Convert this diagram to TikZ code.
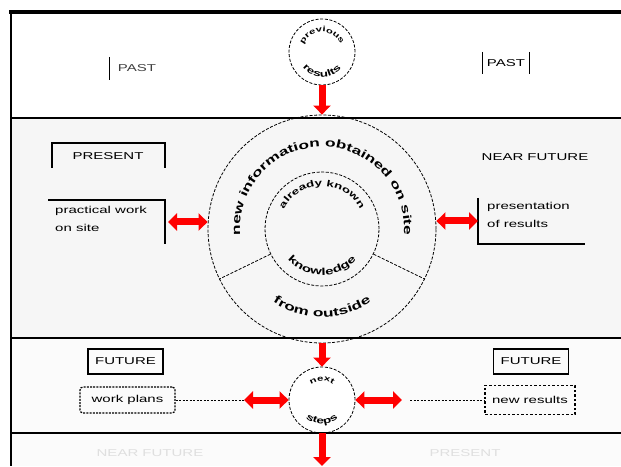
\documentclass[tikz,border=0pt]{standalone}
\usepackage{fontspec}
\setmainfont{Liberation Sans}[FakeStretch=1.5]
\usetikzlibrary{arrows.meta,decorations.text}
\newcommand\arcfontA{\fontsize{11.5}{13}\selectfont\bfseries}
\newcommand\arcfontB{\fontsize{10}{12}\selectfont\bfseries}
\newcommand\arcfontC{\fontsize{9}{11}\selectfont\bfseries}
\newcommand\arcfontD{\fontsize{7.5}{9}\selectfont\bfseries}
\begin{document}
\begin{tikzpicture}[x=1pt,y=1pt,
  lbl/.style={font=\fontsize{10}{18}\selectfont, inner sep=0pt},
  ring/.style={draw, line width=0.8pt, dash pattern=on 3pt off 1.6pt, circle, inner sep=0pt},
  ringline/.style={line width=0.8pt, dash pattern=on 3pt off 1.6pt},
  band/.style={line width=1.6pt},
  brk/.style={line width=1.1pt},
  redarr/.style={red, line width=7pt, -{Triangle[width=17pt,length=9pt]}},
  redbi/.style={red, line width=7pt, {Triangle[width=17pt,length=9pt]}-{Triangle[width=17pt,length=9pt]}},
  dotline/.style={line width=0.9pt, dash pattern=on 2pt off 1.5pt},
  arctext/.style={decorate, decoration={text along path, text align=center, text={#1}}},
]
\useasboundingbox (0,0) rectangle (621,466);
% backgrounds
\fill[white] (0,0) rectangle (621,466);
\fill[gray!7] (11,128) rectangle (621,348);
\fill[gray!3] (11,0) rectangle (621,128);

% circles
\node[ring, minimum size=66pt, fill=white] (topc) at (322,414) {};
\node[ring, minimum size=228pt] (big) at (322,237) {};
\node[ring, minimum size=114pt] (inner) at (322,237) {};
\draw[ringline] (inner.206) -- (big.206);
\draw[ringline] (inner.334) -- (big.334);
\node[ring, minimum size=66pt, fill=white] (botc) at (322,66) {};

% band lines
\draw[line width=3.5pt] (9,454) -- (621,454);
\draw[band] (11,455) -- (11,0);
\draw[band] (11,348) -- (621,348);
\draw[band] (11,128) -- (621,128);
\draw[band] (11,33) -- (621,33);

% curved texts
\path[arctext={|\arcfontA|new information obtained on site}]
  ([shift={(190:82)}]big.center) arc[start angle=190, end angle=-10, radius=82];
\path[arctext={|\arcfontA|from outside}]
  ([shift={(233:88)}]big.center) arc[start angle=233, end angle=307, radius=88];
\path[arctext={|\arcfontC|already known}]
  ([shift={(160:43)}]big.center) arc[start angle=160, end angle=20, radius=43];
\path[arctext={|\arcfontB|knowledge}]
  ([shift={(205:46)}]big.center) arc[start angle=205, end angle=335, radius=46];
\path[arctext={|\arcfontD|previous}]
  ([shift={(160:20)}]topc.center) arc[start angle=160, end angle=20, radius=20];
\path[arctext={|\arcfontC|results}]
  ([shift={(210:25)}]topc.center) arc[start angle=210, end angle=330, radius=25];
\path[arctext={|\arcfontD|next}]
  ([shift={(140:19)}]botc.center) arc[start angle=140, end angle=40, radius=19];
\path[arctext={|\arcfontC|steps}]
  ([shift={(235:24)}]botc.center) arc[start angle=235, end angle=305, radius=24];

% labels
\node[lbl, text=black!75] (past1) at (137,398) {PAST};
\draw[brk] ([shift={(-8,11)}]past1.west) -- ++(0,-23);
\node[lbl] (past2) at (506,403) {PAST};
\draw[brk] ([shift={(-4,11)}]past2.west) -- ++(0,-22);
\draw[brk] ([shift={(4,11)}]past2.east) -- ++(0,-22);

\node[lbl] (pres) at (108,310) {PRESENT};
\draw[brk] ([shift={(-56,-12)}]pres.center) -- ++(0,25) -- ++(113,0) -- ++(0,-25);
\node[lbl, align=left, anchor=north west] (pw) at (55,260) {practical work\\on site};
\draw[brk] (48,266) -- (165,266) -- (165,222);

\node[lbl] (nf) at (535,309) {NEAR FUTURE};
\node[lbl, align=left, anchor=north west] (pr) at (487,264) {presentation\\of results};
\draw[brk] (478,268) -- (478,222) -- (585,222);

\node[lbl, draw, line width=1.2pt, minimum width=75pt, minimum height=25pt] (fut1) at (125.5,104.5) {FUTURE};
\node[lbl, draw, line width=1.2pt, minimum width=75pt, minimum height=25pt] (fut2) at (531,104.5) {FUTURE};

\node[lbl, draw, line width=1.2pt, dash pattern=on 2pt off 1.2pt, rounded corners=3pt,
      minimum width=95pt, minimum height=26pt] (wp) at (127.5,66) {work plans};
\node[lbl, draw, line width=1.2pt, dash pattern=on 2.5pt off 2pt,
      minimum width=90pt, minimum height=29pt] (nr) at (530,66) {new results};

\node[lbl, text=gray!25] (f1) at (150,13) {NEAR FUTURE};
\node[lbl, text=gray!25] (f2) at (465,13) {PRESENT};

% connectors
\coordinate (pwe) at (168,244);
\coordinate (pre) at (478,245);
\coordinate (la) at (244,66);
\coordinate (ra) at (402,66);
\coordinate (bend) at (322,0);
\draw[redarr] (topc.south) -- (big.north);
\draw[redarr] (big.south) -- (botc.north);
\draw[redarr] (botc.south) -- (bend);
\draw[redbi] (pwe) -- (pwe -| big.west);
\draw[redbi] (pre -| big.east) -- (pre);
\draw[dotline] (wp.east) -- (la);
\draw[redbi] (la) -- (la -| botc.west);
\draw[redbi] (ra -| botc.east) -- (ra);
\draw[dotline] ([xshift=8pt]ra) -- (nr.west);
\end{tikzpicture}
\end{document}
